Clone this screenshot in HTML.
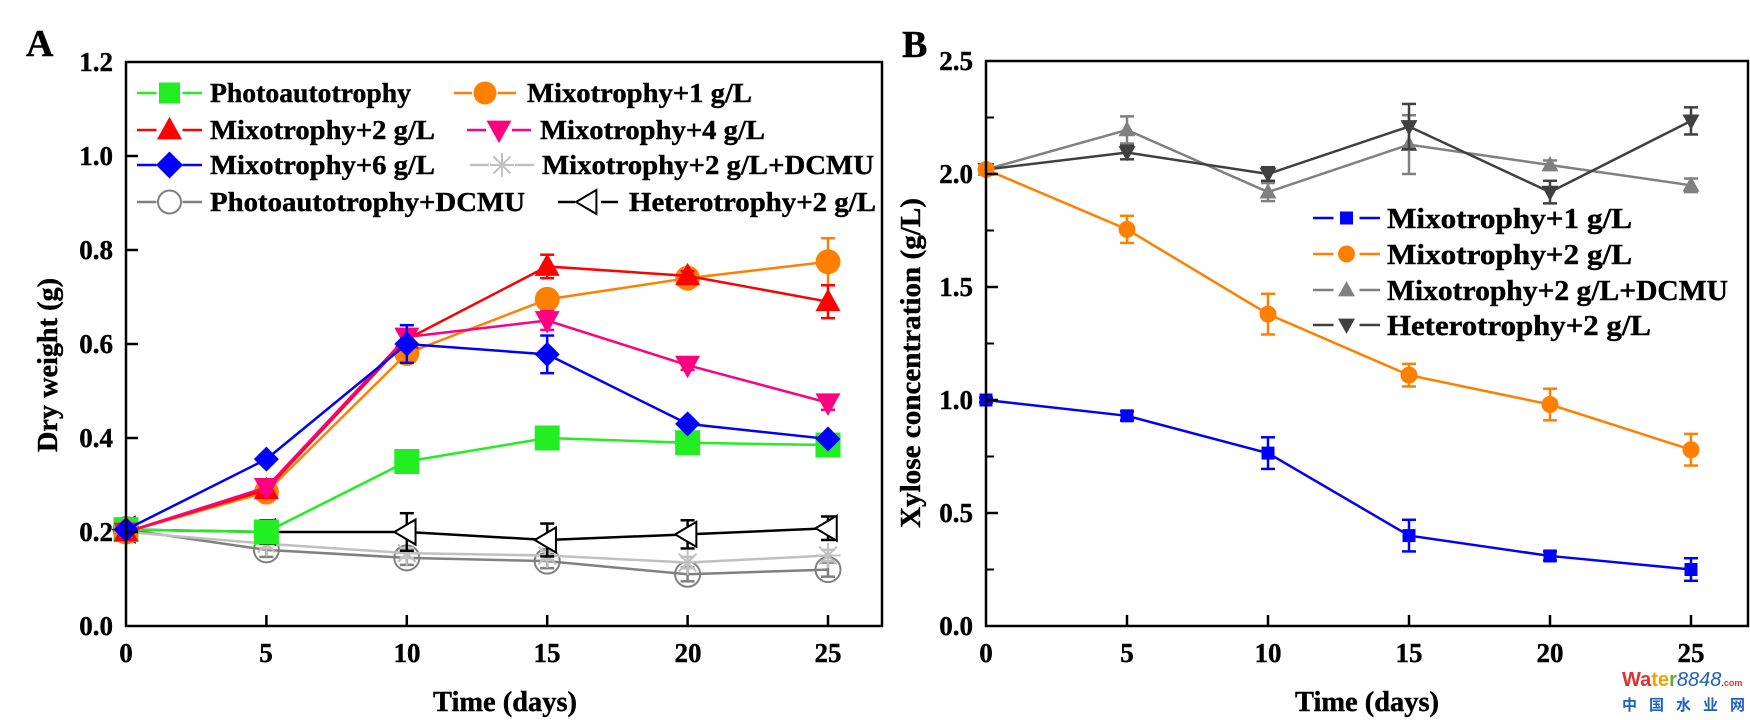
<!DOCTYPE html>
<html><head><meta charset="utf-8"><style>
html,body{margin:0;padding:0;background:#fff;}
svg{display:block;}
text{font-family:"Liberation Serif",serif;font-weight:bold;fill:#000;stroke:#000;stroke-width:0.4px;}
</style></head><body>
<svg id="s" xmlns="http://www.w3.org/2000/svg" width="1750" height="720" viewBox="0 0 1750 720">
<rect x="0" y="0" width="1750" height="720" fill="#fff"/>
<g id="plot"></g>
<text x="26" y="56" font-size="38">A</text>
<text x="902" y="57" font-size="38">B</text>
<g font-size="27" text-anchor="end">
<text x="113" y="635">0.0</text>
<text x="113" y="541">0.2</text>
<text x="113" y="447">0.4</text>
<text x="113" y="353">0.6</text>
<text x="113" y="259">0.8</text>
<text x="113" y="165">1.0</text>
<text x="113" y="71">1.2</text>
</g>
<g font-size="27" text-anchor="middle">
<text x="126" y="662">0</text>
<text x="266" y="662">5</text>
<text x="407" y="662">10</text>
<text x="547" y="662">15</text>
<text x="688" y="662">20</text>
<text x="828" y="662">25</text>
</g>
<text x="505" y="711" font-size="28" text-anchor="middle" textLength="144" lengthAdjust="spacingAndGlyphs">Time (days)</text>
<text transform="translate(57,365) rotate(-90)" font-size="28" text-anchor="middle" textLength="174" lengthAdjust="spacingAndGlyphs">Dry weight (g)</text>
<g font-size="27" text-anchor="end">
<text x="973" y="635">0.0</text>
<text x="973" y="522">0.5</text>
<text x="973" y="409">1.0</text>
<text x="973" y="296">1.5</text>
<text x="973" y="183">2.0</text>
<text x="973" y="70">2.5</text>
</g>
<g font-size="27" text-anchor="middle">
<text x="986" y="662">0</text>
<text x="1127" y="662">5</text>
<text x="1268" y="662">10</text>
<text x="1409" y="662">15</text>
<text x="1550" y="662">20</text>
<text x="1691" y="662">25</text>
</g>
<text x="1367" y="711" font-size="28" text-anchor="middle" textLength="144" lengthAdjust="spacingAndGlyphs">Time (days)</text>
<text transform="translate(920,363) rotate(-90)" font-size="28" text-anchor="middle" textLength="330" lengthAdjust="spacingAndGlyphs">Xylose concentration (g/L)</text>
<g font-size="27">
<text x="210" y="102" textLength="201" lengthAdjust="spacingAndGlyphs">Photoautotrophy</text>
<text x="527" y="102" textLength="225" lengthAdjust="spacingAndGlyphs">Mixotrophy+1 g/L</text>
<text x="210" y="139" textLength="225" lengthAdjust="spacingAndGlyphs">Mixotrophy+2 g/L</text>
<text x="540" y="139" textLength="225" lengthAdjust="spacingAndGlyphs">Mixotrophy+4 g/L</text>
<text x="210" y="174" textLength="225" lengthAdjust="spacingAndGlyphs">Mixotrophy+6 g/L</text>
<text x="542" y="174" textLength="332" lengthAdjust="spacingAndGlyphs">Mixotrophy+2 g/L+DCMU</text>
<text x="210" y="211" textLength="315" lengthAdjust="spacingAndGlyphs">Photoautotrophy+DCMU</text>
<text x="629" y="211" textLength="247" lengthAdjust="spacingAndGlyphs">Heterotrophy+2 g/L</text>
</g>
<g font-size="28">
<text x="1387" y="228" textLength="245" lengthAdjust="spacingAndGlyphs">Mixotrophy+1 g/L</text>
<text x="1387" y="264" textLength="245" lengthAdjust="spacingAndGlyphs">Mixotrophy+2 g/L</text>
<text x="1387" y="300" textLength="341" lengthAdjust="spacingAndGlyphs">Mixotrophy+2 g/L+DCMU</text>
<text x="1387" y="335" textLength="264" lengthAdjust="spacingAndGlyphs">Heterotrophy+2 g/L</text>
</g>
<text x="1622" y="686" font-size="20" style="font-family:'Liberation Sans',sans-serif;stroke:none"><tspan fill="#e03030">Wa</tspan><tspan fill="#f0a000">te</tspan><tspan fill="#60b030">r</tspan><tspan fill="#2060c0" font-style="italic" font-weight="normal">8848</tspan><tspan fill="#e03030" font-size="9">.com</tspan></text>
<text x="1622" y="710" font-size="15" style="font-family:'Liberation Sans','Noto Sans CJK SC',sans-serif;fill:#2060c0;stroke:none;letter-spacing:12px">中国水业网</text>
</svg>
<script>
var NS="http://www.w3.org/2000/svg";
var g=document.getElementById("plot");
function el(t,a){var e=document.createElementNS(NS,t);for(var k in a)e.setAttribute(k,a[k]);g.appendChild(e);return e;}
function line(x1,y1,x2,y2,c,w){el("line",{x1:x1,y1:y1,x2:x2,y2:y2,stroke:c,"stroke-width":w});}
function marker(type,x,y,s,c){
 var h=s/2;
 if(type=="sq")el("rect",{x:x-h,y:y-h,width:s,height:s,fill:c});
 else if(type=="ci")el("circle",{cx:x,cy:y,r:h,fill:c});
 else if(type=="oc")el("circle",{cx:x,cy:y,r:h,fill:"none",stroke:c,"stroke-width":2});
 else if(type=="tu")el("polygon",{points:(x)+","+(y-h*1.05)+" "+(x+h)+","+(y+h*0.75)+" "+(x-h)+","+(y+h*0.75),fill:c});
 else if(type=="td")el("polygon",{points:(x)+","+(y+h*1.05)+" "+(x+h)+","+(y-h*0.75)+" "+(x-h)+","+(y-h*0.75),fill:c});
 else if(type=="di")el("polygon",{points:x+","+(y-h)+" "+(x+h)+","+y+" "+x+","+(y+h)+" "+(x-h)+","+y,fill:c});
 else if(type=="as"){for(var i=0;i<4;i++){var a=i*Math.PI/4;line(x-h*Math.cos(a),y-h*Math.sin(a),x+h*Math.cos(a),y+h*Math.sin(a),c,2);}}
 else if(type=="tl")el("polygon",{points:(x-h)+","+y+" "+(x+h*0.7)+","+(y-h)+" "+(x+h*0.7)+","+(y+h),fill:"#fff",stroke:c,"stroke-width":2});
}
function series(X,Y,vals,errs,col,type,s,lw){
 var pts=vals.map(function(v,i){return X(i*5)+","+Y(v);}).join(" ");
 el("polyline",{points:pts,fill:"none",stroke:col,"stroke-width":lw});
 vals.forEach(function(v,i){var e=errs?errs[i]:0;if(e>0.004){var x=X(i*5);line(x,Y(v-e),x,Y(v+e),col,2.5);line(x-7,Y(v+e),x+7,Y(v+e),col,2.5);line(x-7,Y(v-e),x+7,Y(v-e),col,2.5);}});
 vals.forEach(function(v,i){marker(type,X(i*5),Y(v),s,col);});
}
var XA=function(d){return 126+28.08*d;},YA=function(v){return 626-470*v;};
var A=[
 ["#808080","oc",[0.205,0.162,0.145,0.138,0.11,0.12],[0.01,0.015,0.015,0.015,0.015,0.015]],
 ["#c0c0c0","as",[0.2,0.175,0.155,0.15,0.135,0.15],[0.01,0.01,0.01,0.01,0.012,0.012]],
 ["#000000","tl",[0.205,0.2,0.2,0.183,0.195,0.208],[0.02,0.025,0.04,0.035,0.03,0.025]],
 ["#22ee22","sq",[0.205,0.2,0.35,0.40,0.39,0.385],[0.01,0.02,0.01,0.01,0.01,0.01]],
 ["#ff8000","ci",[0.2,0.285,0.58,0.695,0.74,0.775],[0.01,0.01,0.02,0.01,0.01,0.05]],
 ["#ff0000","tu",[0.2,0.29,0.61,0.765,0.745,0.69],[0.01,0.01,0.015,0.025,0.01,0.035]],
 ["#ff0080","td",[0.2,0.295,0.615,0.65,0.555,0.475],[0.01,0.01,0.01,0.02,0.01,0.015]],
 ["#0000ff","di",[0.205,0.355,0.6,0.578,0.43,0.398],[0.01,0.01,0.04,0.04,0.01,0.01]]
];
A.forEach(function(s){series(XA,YA,s[2],s[3],s[0],s[1],25,2.5);});
var XB=function(d){return 986+28.2*d;},YB=function(v){return 626-226*v;};
var B=[
 ["#808080","tu",[2.02,2.195,1.92,2.13,2.04,1.95],[0.01,0.06,0.04,0.13,0.02,0.03]],
 ["#404040","td",[2.02,2.095,2.0,2.21,1.92,2.235],[0.01,0.03,0.03,0.1,0.05,0.06]],
 ["#ff8000","ci",[2.02,1.755,1.38,1.11,0.98,0.78],[0.01,0.06,0.09,0.05,0.07,0.07]],
 ["#0000ff","sq",[1.0,0.93,0.765,0.4,0.31,0.25],[0.01,0.02,0.07,0.07,0.02,0.05]]
];
B.forEach(function(s){series(XB,YB,s[2],s[3],s[0],s[1],s[1]=="sq"?13:17,2.5);});
el("rect",{x:126,y:62,width:756,height:564,fill:"none",stroke:"#000","stroke-width":2.5});
for(var i=1;i<=5;i++){line(XA(i*5),626,XA(i*5),615,"#000",2.5);}
for(var i=1;i<6;i++){line(126,YA(i*0.2),138,YA(i*0.2),"#000",2.5);}
el("rect",{x:986,y:61,width:762,height:565,fill:"none",stroke:"#000","stroke-width":2.5});
for(var i=1;i<=5;i++){line(XB(i*5),626,XB(i*5),615,"#000",2.5);}
for(var i=1;i<5;i++){line(986,YB(i*0.5),998,YB(i*0.5),"#000",2.5);}
for(var i=0;i<5;i++){line(986,YB(0.25+i*0.5),994,YB(0.25+i*0.5),"#000",2);}
function leg(x1,x2,y,c,t,s){line(x1,y,x2,y,c,2.5);el("rect",{x:(x1+x2)/2-13,y:y-13,width:26,height:26,fill:"#fff"});marker(t,(x1+x2)/2,y,s,c);}
leg(137,202,93,"#22ee22","sq",21);
leg(454,516,93,"#ff8000","ci",23);
leg(137,202,130,"#ff0000","tu",25);
leg(467,531,130,"#ff0080","td",25);
leg(137,202,165,"#0000ff","di",27);
leg(470,534,165,"#c0c0c0","as",24);
leg(137,202,202,"#808080","oc",23);
leg(558,618,202,"#000000","tl",24);
leg(1313,1380,218,"#0000ff","sq",13);
leg(1313,1380,254,"#ff8000","ci",17);
leg(1313,1380,290,"#808080","tu",17);
leg(1313,1380,325,"#404040","td",17);
</script>
</body></html>
